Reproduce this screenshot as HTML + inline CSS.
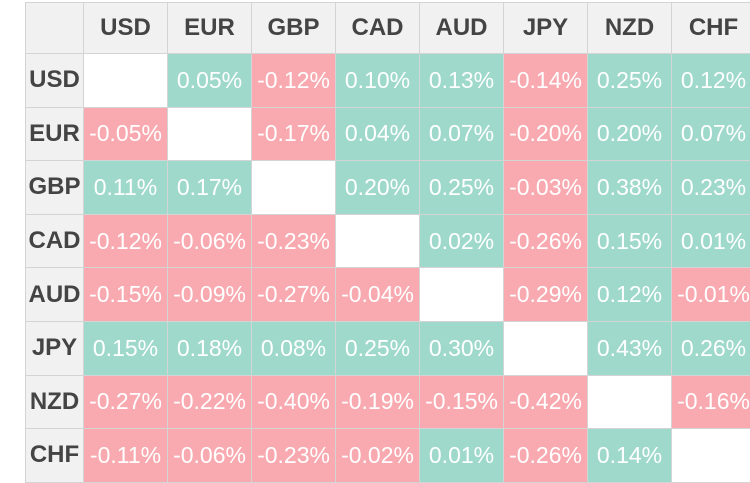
<!DOCTYPE html>
<html><head><meta charset="utf-8"><style>
body{margin:0;width:750px;height:483px;overflow:hidden;background:#fff;font-family:"Liberation Sans",sans-serif;}
#grid{position:absolute;left:0;top:0;width:750px;height:483px;}
.c{position:absolute;box-sizing:border-box;border-right:1px solid #d4d4d4;border-bottom:1px solid #d4d4d4;display:flex;align-items:center;justify-content:center;white-space:nowrap;overflow:hidden;}
.h{background:#f1f1f1;color:#444;font-weight:bold;font-size:24px;}
.v{color:#fff;font-size:23px;font-weight:normal;letter-spacing:0px;}
</style></head><body>
<div id="grid"></div>
<script>
const currencies=["USD","EUR","GBP","CAD","AUD","JPY","NZD","CHF"];
const values=[
[null,0.05,-0.12,0.10,0.13,-0.14,0.25,0.12],
[-0.05,null,-0.17,0.04,0.07,-0.20,0.20,0.07],
[0.11,0.17,null,0.20,0.25,-0.03,0.38,0.23],
[-0.12,-0.06,-0.23,null,0.02,-0.26,0.15,0.01],
[-0.15,-0.09,-0.27,-0.04,null,-0.29,0.12,-0.01],
[0.15,0.18,0.08,0.25,0.30,null,0.43,0.26],
[-0.27,-0.22,-0.40,-0.19,-0.15,-0.42,null,-0.16],
[-0.11,-0.06,-0.23,-0.02,0.01,-0.26,0.14,null]
];
const g=document.getElementById('grid');
const x0=25,hw=59,cw=84,y0=2,hh=52,rh=53.6;
function colX(j){return x0+hw+j*cw;}
function rowY(i){return y0+hh+i*rh;}
function cell(x,y,w,h,cls,txt,bg){
  const d=document.createElement('div');
  d.className='c '+cls;
  d.style.left=x+'px';d.style.top=y+'px';d.style.width=w+'px';d.style.height=h+'px';
  if(bg)d.style.background=bg;
  d.textContent=txt;
  g.appendChild(d);return d;
}
const corner=cell(x0,y0,hw,hh,'h','');
corner.style.borderLeft='1px solid #d4d4d4';corner.style.borderTop='1px solid #d4d4d4';


currencies.forEach((c,j)=>{
  const d=cell(colX(j),y0,cw,hh,'h',c);
  d.style.borderTop='1px solid #d4d4d4';
  
  
});
currencies.forEach((r,i)=>{
  const d=cell(x0,rowY(i),hw,rh,'h',r);
  d.style.borderLeft='1px solid #d4d4d4';
  
  
  currencies.forEach((c,j)=>{
    const v=values[i][j];
    const bg=v===null?'#fff':(v>=0?'#9fd9cc':'#f8aab0');
    const t=v===null?'':v.toFixed(2)+'%';
    const e=cell(colX(j),rowY(i),cw,rh,'v',t,bg);
    
    
  });
});
</script>
</body></html>
